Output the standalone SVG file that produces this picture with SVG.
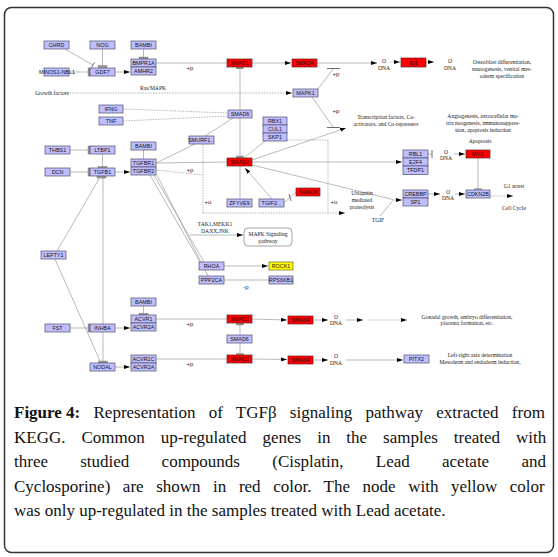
<svg xmlns="http://www.w3.org/2000/svg" width="558" height="557" viewBox="0 0 558 557">
<style>
.g rect{fill:#bfbfff;stroke:#4d4d66;stroke-width:0.7}
.g.red rect{fill:#ff0000;stroke:#662222}
.g.yel rect{fill:#ffff00;stroke:#666633}
.g text{font-family:"Liberation Sans",Arial,sans-serif;font-size:5.4px;text-anchor:middle;fill:#111}
.lbl{font-family:"Liberation Serif","Times New Roman",serif;font-size:5.6px;fill:#222;text-anchor:middle}
.pl{font-family:"Liberation Sans",Arial,sans-serif;font-size:6px;fill:#222;text-anchor:middle}
#connectors line{stroke:#8c8c8c;stroke-width:0.6;fill:none}
#connectors .ds{stroke-dasharray:1.6 1.1}
#connectors .bk{stroke:#444;stroke-width:0.8}
.bar{fill:#9a9a9a;stroke:#555;stroke-width:0.3}
.cap{font-family:"Liberation Serif","Times New Roman",serif;font-size:17px;fill:#111}
</style>
<defs>
<marker id="a" markerWidth="6" markerHeight="4" refX="6" refY="2" orient="auto" markerUnits="userSpaceOnUse"><path d="M0,0 L6,2 L0,4z" fill="#000"/></marker>
</defs>
<rect x="4.5" y="7.5" width="549" height="545" rx="7" fill="#fff" stroke="#333" stroke-width="1.5"/>

<g id="connectors">
<line x1="65" y1="49" x2="93" y2="65"/><line class="bk" x1="94.5" y1="62.4" x2="91.5" y2="67.6"/>
<line x1="102.5" y1="49" x2="102.5" y2="66"/><rect class="bar" x="98" y="65.5" width="9" height="2"/>
<line x1="69" y1="72" x2="89" y2="72"/><rect class="bar" x="88" y="68" width="2" height="8"/>
<line x1="115" y1="72" x2="130" y2="72" marker-end="url(#a)"/>
<line x1="143.5" y1="49" x2="143.5" y2="58"/><rect class="bar" x="139" y="57" width="9" height="1.8"/>
<line x1="156" y1="63" x2="227" y2="63"/>
<line x1="252" y1="63" x2="291" y2="63" marker-end="url(#a)"/>
<line x1="317" y1="63" x2="377" y2="63" marker-end="url(#a)"/>
<line class="ds" x1="390" y1="62" x2="400" y2="62" marker-end="url(#a)"/>
<line x1="426" y1="62" x2="434" y2="62" marker-end="url(#a)"/>
<line x1="318" y1="89" x2="333" y2="69"/><line class="bk" x1="327" y1="68.5" x2="340" y2="68.5"/>
<line x1="312" y1="97" x2="333" y2="127"/><line class="bk" x1="327" y1="127.5" x2="340" y2="127.5"/>
<line x1="252" y1="160" x2="346" y2="128" marker-end="url(#a)"/>
<line class="ds" x1="64" y1="93" x2="292" y2="93" marker-end="url(#a)"/>
<line class="ds" x1="123" y1="109" x2="228" y2="113"/>
<line class="ds" x1="123" y1="121" x2="228" y2="116"/>
<line x1="240" y1="110" x2="240" y2="68"/><rect class="bar" x="236.5" y="67" width="7" height="1.8"/>
<line x1="240" y1="118" x2="240" y2="157"/><rect class="bar" x="236.5" y="156" width="7" height="1.8"/>
<line x1="233" y1="118" x2="205" y2="136"/>
<line x1="195" y1="144" x2="156" y2="163"/>
<line class="ds" x1="203" y1="144" x2="203" y2="213"/>
<line class="ds" x1="287" y1="140" x2="328" y2="140"/>
<line class="ds" x1="328" y1="140" x2="328" y2="213"/>
<line class="ds" x1="203" y1="213" x2="345" y2="213" marker-end="url(#a)"/>
<line x1="265" y1="141" x2="244" y2="158"/>
<line x1="156" y1="163" x2="227" y2="162"/>
<line class="ds" x1="156" y1="170" x2="203" y2="175"/>
<line x1="252" y1="162" x2="402" y2="162" marker-end="url(#a)"/>
<line x1="252" y1="165" x2="393" y2="199.5"/>
<line x1="380" y1="216" x2="393" y2="200.5"/>
<line x1="393" y1="200" x2="402" y2="200" marker-end="url(#a)"/>
<line x1="240" y1="166" x2="240" y2="199"/>
<line x1="272" y1="199" x2="245" y2="168" marker-end="url(#a)"/>
<line x1="284" y1="203" x2="296" y2="192"/><line class="bk" x1="289" y1="194" x2="291" y2="201"/>
<line x1="428" y1="154" x2="432" y2="154"/><line class="bk" x1="432" y1="150" x2="432" y2="158"/>
<line x1="454" y1="154" x2="465" y2="154" marker-end="url(#a)"/>
<line x1="478" y1="158" x2="478" y2="189"/><line class="bk" x1="474" y1="189" x2="482" y2="189"/>
<line x1="428" y1="194" x2="440" y2="194" marker-end="url(#a)"/>
<line x1="455" y1="194" x2="465" y2="194" marker-end="url(#a)"/>
<line class="ds" x1="490" y1="196" x2="513" y2="196" marker-end="url(#a)"/>
<line x1="115" y1="172" x2="130" y2="172" marker-end="url(#a)"/>
<line x1="70" y1="150" x2="89" y2="150"/><rect class="bar" x="88" y="146" width="2" height="8"/>
<line x1="70" y1="172" x2="89" y2="172"/><rect class="bar" x="88" y="168" width="2" height="8"/>
<line x1="102.5" y1="154" x2="102.5" y2="167"/><rect class="bar" x="98" y="166.5" width="9" height="1.8"/>
<line x1="143.5" y1="150" x2="143.5" y2="159"/>
<line x1="57" y1="251" x2="99" y2="179"/><rect class="bar" x="97" y="176.3" width="9" height="1.8"/>
<line x1="103" y1="178" x2="103" y2="324"/>
<line x1="103" y1="332" x2="103" y2="362"/><rect class="bar" x="98.5" y="361" width="9" height="1.8"/>
<line x1="55" y1="259" x2="100" y2="361"/>
<line x1="70" y1="328" x2="89" y2="328"/><rect class="bar" x="88" y="324" width="2" height="8"/>
<line x1="115" y1="328" x2="130" y2="328" marker-end="url(#a)"/>
<line x1="115" y1="367" x2="130" y2="367" marker-end="url(#a)"/>
<line x1="143.5" y1="306" x2="143.5" y2="314"/><rect class="bar" x="139" y="313.3" width="9" height="1.8"/>
<line x1="156" y1="319" x2="227" y2="319"/>
<line x1="156" y1="359" x2="227" y2="359"/>
<line x1="252" y1="319" x2="287" y2="320" marker-end="url(#a)"/>
<line x1="313" y1="320" x2="328" y2="320" marker-end="url(#a)"/>
<line x1="346" y1="320" x2="363" y2="320" marker-end="url(#a)"/>
<line class="ds" x1="368" y1="320" x2="407" y2="320" marker-end="url(#a)"/>
<line x1="240" y1="335" x2="240" y2="324.5"/><rect class="bar" x="236.5" y="323.2" width="7" height="1.8"/>
<line x1="240" y1="343" x2="240" y2="354.5"/><rect class="bar" x="236.5" y="353.5" width="7" height="1.8"/>
<line x1="252" y1="359" x2="287" y2="359.5" marker-end="url(#a)"/>
<line x1="313" y1="360" x2="328" y2="360" marker-end="url(#a)"/>
<line x1="346" y1="360" x2="403" y2="360" marker-end="url(#a)"/>
<line x1="150" y1="175" x2="200" y2="262"/>
<line x1="154" y1="175" x2="204" y2="262"/>
<line x1="157" y1="175" x2="208" y2="276"/>
<line x1="190" y1="235" x2="243" y2="235" marker-end="url(#a)"/>
<line x1="224" y1="266" x2="268" y2="266" marker-end="url(#a)"/>
<line x1="224" y1="280" x2="269" y2="280"/>
</g>

<g id="n-CHRD" class="g"><rect x="44" y="41" width="25" height="8"/><text x="56.5" y="47">CHRD</text></g>
<g id="n-NOG" class="g"><rect x="90" y="41" width="25" height="8"/><text x="102.5" y="47">NOG</text></g>
<g id="n-BAMBI1" class="g"><rect x="131" y="41" width="25" height="8"/><text x="143.5" y="47">BAMBI</text></g>
<g id="n-MINOS1" class="g"><rect x="44" y="68" width="25" height="8"/><text x="57" y="74">MINOS1-NBL1</text></g>
<g id="n-GDF7" class="g"><rect x="90" y="68" width="25" height="8"/><text x="102.5" y="74">GDF7</text></g>
<g id="n-BMPR1A" class="g"><rect x="131" y="59" width="25" height="8"/><text x="143.5" y="65">BMPR1A</text></g>
<g id="n-AMHR2" class="g"><rect x="131" y="67" width="25" height="8"/><text x="143.5" y="73">AMHR2</text></g>
<g id="n-SMAD1" class="g red"><rect x="227" y="59" width="25" height="8"/><text x="239.5" y="65">SMAD1</text></g>
<g id="n-SMAD4a" class="g red"><rect x="292" y="59" width="25" height="8"/><text x="304.5" y="65">SMAD4</text></g>
<g id="n-ID1" class="g red"><rect x="401" y="58" width="25" height="9"/><text x="413.5" y="64.5">ID1</text></g>
<g id="n-MAPK1" class="g"><rect x="293" y="89" width="25" height="8"/><text x="305.5" y="95">MAPK1</text></g>
<g id="n-IFNG" class="g"><rect x="99" y="105" width="24" height="8"/><text x="111" y="111">IFNG</text></g>
<g id="n-TNF" class="g"><rect x="99" y="117" width="24" height="8"/><text x="111" y="123">TNF</text></g>
<g id="n-SMAD6a" class="g"><rect x="228" y="110" width="24" height="8"/><text x="240" y="116">SMAD6</text></g>
<g id="n-RBX1" class="g"><rect x="263" y="117" width="24" height="8"/><text x="275" y="123">RBX1</text></g>
<g id="n-CUL1" class="g"><rect x="263" y="125" width="24" height="8"/><text x="275" y="131">CUL1</text></g>
<g id="n-SKP1" class="g"><rect x="263" y="133" width="24" height="8"/><text x="275" y="139">SKP1</text></g>
<g id="n-SMURF1" class="g"><rect x="189" y="136" width="25" height="8"/><text x="201.5" y="142">SMURF1...</text></g>
<g id="n-THBS1" class="g"><rect x="45" y="146" width="25" height="8"/><text x="57.5" y="152">THBS1</text></g>
<g id="n-LTBP1" class="g"><rect x="90" y="146" width="25" height="8"/><text x="102.5" y="152">LTBP1</text></g>
<g id="n-BAMBI2" class="g"><rect x="131" y="142" width="25" height="8"/><text x="143.5" y="148">BAMBI</text></g>
<g id="n-TGFBR1" class="g"><rect x="131" y="159" width="25" height="8"/><text x="143.5" y="165">TGFBR1</text></g>
<g id="n-TGFBR2" class="g"><rect x="131" y="167" width="25" height="8"/><text x="143.5" y="173">TGFBR2</text></g>
<g id="n-DCN" class="g"><rect x="45" y="168" width="25" height="8"/><text x="57.5" y="174">DCN</text></g>
<g id="n-TGFB1" class="g"><rect x="90" y="168" width="25" height="8"/><text x="102.5" y="174">TGFB1</text></g>
<g id="n-SMAD2a" class="g red"><rect x="227" y="158" width="25" height="8"/><text x="239.5" y="164">SMAD2</text></g>
<g id="n-RBL1" class="g"><rect x="403" y="150" width="25" height="8"/><text x="415.5" y="156">RBL1</text></g>
<g id="n-E2F4" class="g"><rect x="403" y="158" width="25" height="8"/><text x="415.5" y="164">E2F4</text></g>
<g id="n-TFDP1" class="g"><rect x="403" y="166" width="25" height="8.5"/><text x="415.5" y="172.3">TFDP1</text></g>
<g id="n-MYC" class="g red"><rect x="466" y="150" width="24" height="8"/><text x="478" y="156">MYC</text></g>
<g id="n-SMAD4b" class="g red"><rect x="296" y="188" width="24" height="8"/><text x="308" y="194">SMAD4</text></g>
<g id="n-CREBBP" class="g"><rect x="403" y="190" width="25" height="8"/><text x="415.5" y="196">CREBBP</text></g>
<g id="n-SP1" class="g"><rect x="403" y="198" width="25" height="8"/><text x="415.5" y="204">SP1</text></g>
<g id="n-CDKN2B" class="g"><rect x="466" y="190" width="24" height="8"/><text x="478" y="196">CDKN2B</text></g>
<g id="n-ZFYVE9" class="g"><rect x="227" y="199" width="25" height="8"/><text x="239.5" y="205">ZFYVE9</text></g>
<g id="n-TGIF2" class="g"><rect x="259" y="199" width="25" height="8"/><text x="271.5" y="205">TGIF2...</text></g>
<g id="n-LEFTY1" class="g"><rect x="41" y="251" width="25" height="8"/><text x="53.5" y="257">LEFTY1</text></g>
<g id="n-RHOA" class="g"><rect x="199" y="262" width="25" height="8"/><text x="211.5" y="268">RHOA</text></g>
<g id="n-ROCK1" class="g yel"><rect x="269" y="262" width="24" height="8"/><text x="281" y="268">ROCK1</text></g>
<g id="n-PPP2CA" class="g"><rect x="199" y="276" width="25" height="8"/><text x="211.5" y="282">PPP2CA</text></g>
<g id="n-RPS6KB1" class="g"><rect x="269" y="276" width="24" height="8"/><text x="281" y="282">RPS6KB1</text></g>
<g id="n-BAMBI3" class="g"><rect x="131" y="298" width="25" height="8"/><text x="143.5" y="304">BAMBI</text></g>
<g id="n-ACVR1" class="g"><rect x="131" y="315" width="25" height="8"/><text x="143.5" y="321">ACVR1</text></g>
<g id="n-ACVR2Aa" class="g"><rect x="131" y="323" width="25" height="8"/><text x="143.5" y="329">ACVR2A</text></g>
<g id="n-FST" class="g"><rect x="45" y="324" width="25" height="8"/><text x="57.5" y="330">FST</text></g>
<g id="n-INHBA" class="g"><rect x="90" y="324" width="25" height="8"/><text x="102.5" y="330">INHBA</text></g>
<g id="n-SMAD2b" class="g red"><rect x="227" y="315" width="25" height="8"/><text x="239.5" y="321">SMAD2</text></g>
<g id="n-SMAD4c" class="g red"><rect x="288" y="316" width="25" height="8"/><text x="300.5" y="322">SMAD4</text></g>
<g id="n-SMAD6b" class="g"><rect x="227" y="335" width="25" height="8"/><text x="239.5" y="341">SMAD6</text></g>
<g id="n-NODAL" class="g"><rect x="90" y="363" width="25" height="8"/><text x="102.5" y="369">NODAL</text></g>
<g id="n-ACVR1C" class="g"><rect x="131" y="355" width="25" height="8"/><text x="143.5" y="361">ACVR1C</text></g>
<g id="n-ACVR2Ab" class="g"><rect x="131" y="363" width="25" height="8"/><text x="143.5" y="369">ACVR2A</text></g>
<g id="n-SMAD2c" class="g red"><rect x="227" y="355" width="25" height="8"/><text x="239.5" y="361">SMAD2</text></g>
<g id="n-SMAD4d" class="g red"><rect x="288" y="356" width="25" height="8"/><text x="300.5" y="362">SMAD4</text></g>
<g id="n-PITX2" class="g"><rect x="404" y="355" width="25" height="8"/><text x="416.5" y="361">PITX2</text></g>
<g id="n-MAPKsig"><rect x="244" y="228" width="48" height="18" rx="4" fill="#fff" stroke="#666" stroke-width="0.6"/><text class="lbl" x="268" y="236">MAPK Signaling</text><text class="lbl" x="268" y="243">pathway</text></g>

<g id="labels">
<text class="lbl" x="35" y="95" style="text-anchor:start">Growth factors</text>
<text class="lbl" x="153" y="90">Ras/MAPK</text>
<text class="lbl" x="384" y="63">O</text><text class="lbl" x="384" y="70">DNA</text>
<text class="lbl" x="450" y="63">O</text><text class="lbl" x="450" y="70">DNA</text>
<text class="lbl" x="502" y="64">Osteoblast differentiation,</text>
<text class="lbl" x="502" y="71">neurogenesis, ventral mes-</text>
<text class="lbl" x="502" y="78">oderm specification</text>
<text class="lbl" x="386" y="119">Transcription factors, Co-</text>
<text class="lbl" x="386" y="126">activators, and Co-repressers</text>
<text class="lbl" x="483" y="118">Angiogenesis, extracellular ma-</text>
<text class="lbl" x="483" y="125">trix neogenesis,  immunosuppres-</text>
<text class="lbl" x="483" y="132">sion, apoptosis induction</text>
<text class="lbl" x="480" y="143">Apoptosis</text>
<text class="lbl" x="446" y="154">O</text><text class="lbl" x="446" y="160">DNA</text>
<text class="lbl" x="448" y="194">O</text><text class="lbl" x="448" y="200">DNA</text>
<text class="lbl" x="514" y="188">G1 arrest</text>
<text class="lbl" x="514" y="210">Cell Cycle</text>
<text class="lbl" x="362" y="195">Ubiquitin</text>
<text class="lbl" x="362" y="202">mediated</text>
<text class="lbl" x="362" y="209">proteolysis</text>
<text class="lbl" x="378" y="222">TGIF</text>
<text class="lbl" x="215" y="226">TAK1,MEKK1</text>
<text class="lbl" x="215" y="233">DAXX,JNK</text>
<text class="lbl" x="336" y="319">O</text><text class="lbl" x="336" y="325">DNA</text>
<text class="lbl" x="336" y="358">O</text><text class="lbl" x="336" y="365">DNA</text>
<text class="lbl" x="467" y="318.5">Gonadal growth, embryo differentiation,</text>
<text class="lbl" x="467" y="325">placenta formation, etc.</text>
<text class="lbl" x="480" y="357">Left-right axis determination</text>
<text class="lbl" x="480" y="363.5">Mesoderm and endoderm induction,</text>
<text class="pl" x="190" y="70">+p</text>
<text class="pl" x="336" y="76">+p</text>
<text class="pl" x="336" y="113">+p</text>
<text class="pl" x="190" y="172">+p</text>
<text class="pl" x="208" y="204">+u</text>
<text class="pl" x="334" y="204">+u</text>
<text class="pl" x="246" y="289">-p</text>
<text class="pl" x="190" y="326">+p</text>
<text class="pl" x="190" y="366">+p</text>
</g>

<g id="caption">
<text class="cap" x="14" y="418"><tspan font-weight="bold">Figure 4:</tspan><tspan style="word-spacing:9px"> Representation of TGFβ signaling pathway extracted from</tspan></text>
<text class="cap" x="14" y="442.5" style="word-spacing:11.7px">KEGG. Common up-regulated genes in the samples treated with</text>
<text class="cap" x="14" y="467" style="word-spacing:28px">three studied compounds (Cisplatin, Lead acetate and</text>
<text class="cap" x="14" y="491.5" style="word-spacing:8.3px">Cyclosporine) are shown in red color. The node with yellow color</text>
<text class="cap" x="14" y="516">was only up-regulated in the samples treated with Lead acetate.</text>
</g>
</svg>
